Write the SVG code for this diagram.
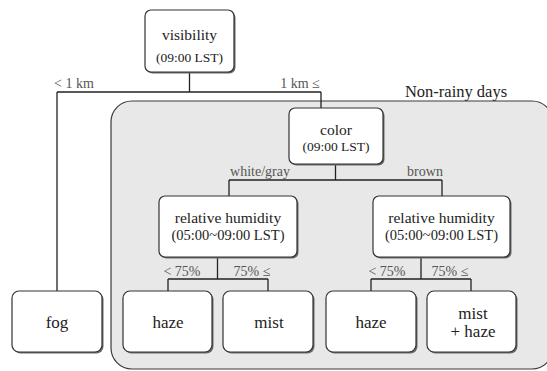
<svg xmlns="http://www.w3.org/2000/svg" width="547" height="371" viewBox="0 0 547 371" font-family="'Liberation Serif', 'DejaVu Serif', 'Times New Roman', serif">
<style>
.bg{fill:#ffffff}
.region{fill:#e8e8e8;stroke:#3a3a3a;stroke-width:1.2}
.sh{fill:#6a6a6a}
.box{fill:#ffffff;stroke:#333333;stroke-width:1.2}
.t{fill:#222222;text-anchor:middle}
.title{font-size:15.5px}
.sub{font-size:13.5px}
.sub2{font-size:14.5px}
.leaf{font-size:17px}
.lbl{font-size:14px;fill:#555555;text-anchor:middle}
.region-lbl{font-size:16.5px;fill:#222222;text-anchor:middle}
.c{fill:none;stroke:#222222;stroke-width:1.3}
</style>
<rect class="bg" x="0" y="0" width="547" height="371"/>
<g id="region-nonrainy">
<rect class="region" x="111" y="101" width="442" height="268" rx="21" ry="21"/>
<text class="region-lbl" x="456" y="97" font-family="Liberation Serif, serif">Non-rainy days</text>
</g>
<g id="connectors" font-family="Liberation Serif, serif">
<path class="c" d="M189.5 72 V92 M57 92 H321 M57 92 V291 M321 92 V108"/>
<path class="c" d="M335.5 164 V180 M229 180 H442 M229 180 V196 M442 180 V196"/>
<path class="c" d="M217.5 257 V279 M168 279 H268 M168 279 V291 M268 279 V291"/>
<path class="c" d="M421 257 V279 M371 279 H471 M371 279 V291 M471 279 V291"/>
<text class="lbl" x="74" y="88">&lt; 1 km</text>
<text class="lbl" x="300" y="88">1 km ≤</text>
<text class="lbl" x="260" y="176">white/gray</text>
<text class="lbl" x="425" y="176">brown</text>
<text class="lbl" x="182" y="276">&lt; 75%</text>
<text class="lbl" x="252" y="276">75% ≤</text>
<text class="lbl" x="387" y="276">&lt; 75%</text>
<text class="lbl" x="450" y="276">75% ≤</text>
</g>
<g id="visibility" font-family="Liberation Serif, serif">
<rect class="sh" x="146.5" y="11.5" width="89" height="62" rx="6"/>
<rect class="box" x="145" y="10" width="89" height="62" rx="6"/>
<text class="t title" x="189.5" y="40">visibility</text>
<text class="t sub" x="189.5" y="62">(09:00 LST)</text>
</g>
<g id="color" font-family="Liberation Serif, serif">
<rect class="sh" x="290.5" y="109.5" width="94" height="56" rx="6"/>
<rect class="box" x="289" y="108" width="94" height="56" rx="6"/>
<text class="t title" x="336" y="135">color</text>
<text class="t sub" x="336" y="151">(09:00 LST)</text>
</g>
<g id="rh-left" font-family="Liberation Serif, serif">
<rect class="sh" x="160.5" y="197.5" width="138" height="61" rx="6"/>
<rect class="box" x="159" y="196" width="138" height="61" rx="6"/>
<text class="t title" x="228" y="223">relative humidity</text>
<text class="t sub2" x="228" y="240">(05:00~09:00 LST)</text>
</g>
<g id="rh-right" font-family="Liberation Serif, serif">
<rect class="sh" x="374.5" y="197.5" width="137" height="61" rx="6"/>
<rect class="box" x="373" y="196" width="137" height="61" rx="6"/>
<text class="t title" x="441.5" y="223">relative humidity</text>
<text class="t sub2" x="441.5" y="240">(05:00~09:00 LST)</text>
</g>
<g id="fog" font-family="Liberation Serif, serif">
<rect class="sh" x="13.5" y="292.5" width="90" height="61" rx="7"/>
<rect class="box" x="12" y="291" width="90" height="61" rx="7"/>
<text class="t leaf" x="57" y="328">fog</text>
</g>
<g id="haze-1" font-family="Liberation Serif, serif">
<rect class="sh" x="124.5" y="292.5" width="89" height="61" rx="7"/>
<rect class="box" x="123" y="291" width="89" height="61" rx="7"/>
<text class="t leaf" x="168" y="328">haze</text>
</g>
<g id="mist" font-family="Liberation Serif, serif">
<rect class="sh" x="224.5" y="292.5" width="90" height="61" rx="7"/>
<rect class="box" x="223" y="291" width="90" height="61" rx="7"/>
<text class="t leaf" x="269" y="328">mist</text>
</g>
<g id="haze-2" font-family="Liberation Serif, serif">
<rect class="sh" x="327.5" y="292.5" width="90" height="61" rx="7"/>
<rect class="box" x="326" y="291" width="90" height="61" rx="7"/>
<text class="t leaf" x="371" y="328">haze</text>
</g>
<g id="mist-haze" font-family="Liberation Serif, serif">
<rect class="sh" x="428.5" y="292.5" width="89" height="61" rx="7"/>
<rect class="box" x="427" y="291" width="89" height="61" rx="7"/>
<text class="t leaf" x="473" y="319">mist</text>
<text class="t leaf" x="473" y="337">+ haze</text>
</g>
</svg>
